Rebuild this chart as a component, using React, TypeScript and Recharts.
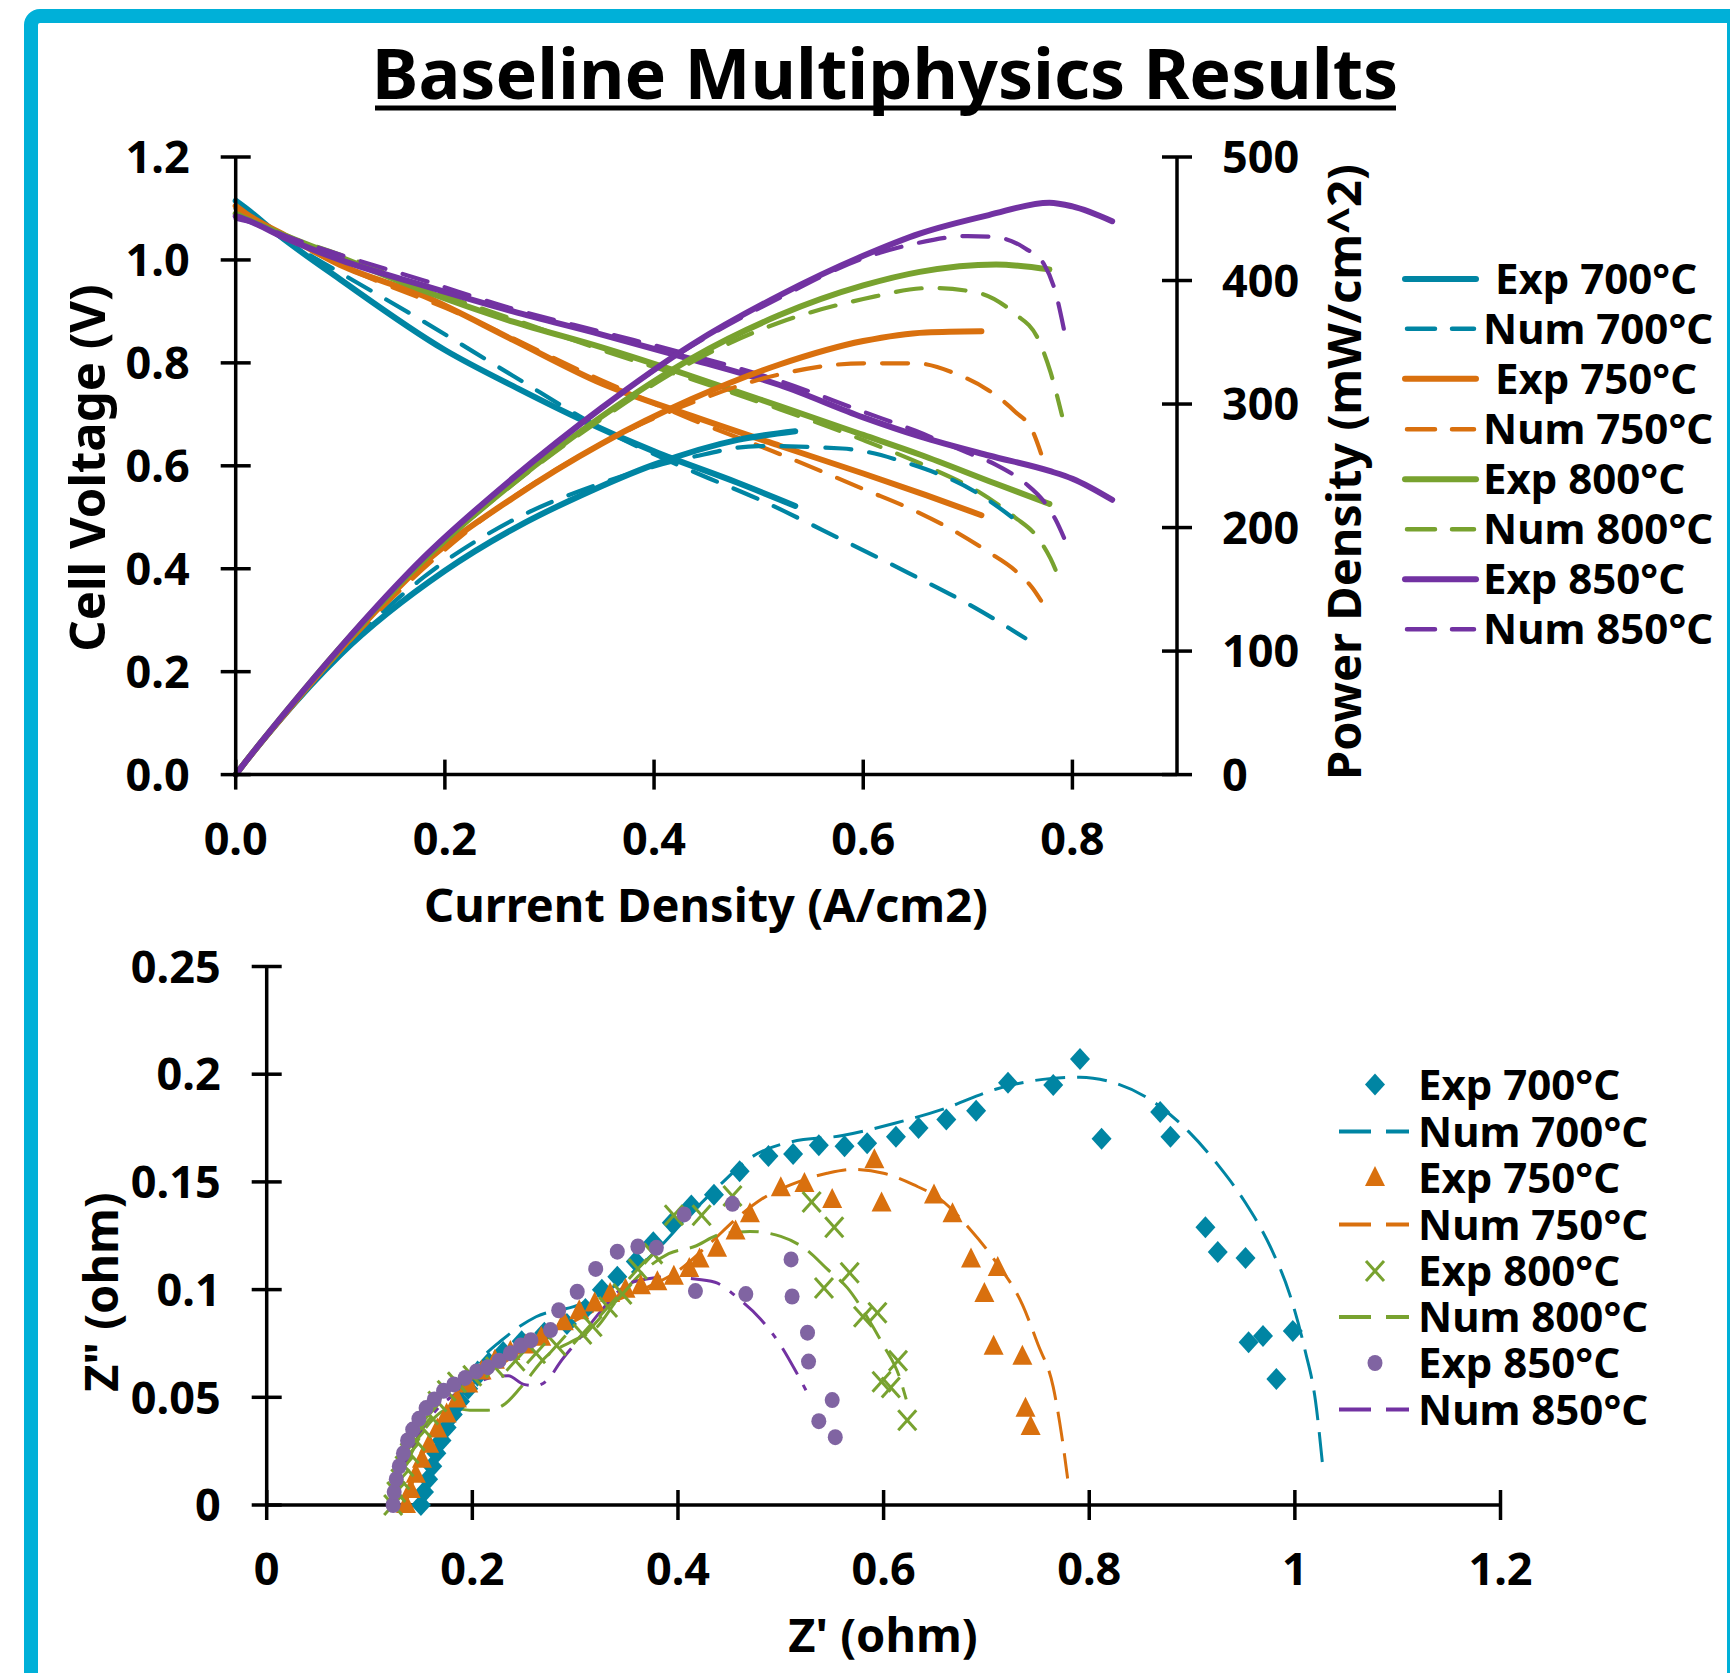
import React from "react";
import { ComposedChart, Line, Scatter, XAxis, YAxis } from "recharts";

const TEAL = "#0085A3";
const ORANGE = "#D9700E";
const GREEN = "#78A22F";
const PURPLE = "#7232A2";
const LILAC = "#8064A2";
const BORDER = "#00B0D8";
const FONT = '"Noto Sans", "DejaVu Sans", sans-serif';

// ---- polarisation curves: current density (A/cm2), voltage (V), power (mW/cm^2)
const exp700I = [0, 0.01, 0.04, 0.1, 0.2, 0.27, 0.33, 0.4, 0.48, 0.535];
const exp700V = [1.115, 1.1, 1.05, 0.962, 0.825, 0.75, 0.69, 0.628, 0.567, 0.522];
const exp700P = [0, 11, 42, 97, 165, 201, 226, 251, 271, 278];

const num700I = [0, 0.02, 0.05, 0.1, 0.18, 0.265, 0.35, 0.436, 0.5, 0.58, 0.643, 0.707, 0.755];
const num700V = [1.1, 1.075, 1.035, 0.975, 0.88, 0.775, 0.672, 0.59, 0.535, 0.456, 0.392, 0.324, 0.265];
const num700P = [0, 21, 51, 98, 160, 206, 236, 257, 266, 264, 252, 229, 200];

const exp750I = [0, 0.01, 0.05, 0.1, 0.18, 0.265, 0.35, 0.436, 0.52, 0.6, 0.66, 0.713];
const exp750V = [1.105, 1.09, 1.045, 0.99, 0.93, 0.845, 0.76, 0.697, 0.639, 0.585, 0.543, 0.504];
const exp750P = [0, 11, 52, 101, 171, 224, 268, 304, 332, 351, 358, 359];

const num750I = [0, 0.02, 0.05, 0.1, 0.22, 0.35, 0.436, 0.52, 0.6, 0.65, 0.69, 0.72, 0.745, 0.762, 0.77];
const num750V = [1.1, 1.07, 1.04, 0.99, 0.89, 0.766, 0.69, 0.623, 0.555, 0.512, 0.47, 0.432, 0.397, 0.362, 0.338];
const num750P = [0, 21, 52, 100, 196, 268, 301, 324, 333, 333, 324, 311, 294, 278, 260];

const exp800I = [0, 0.01, 0.05, 0.1, 0.18, 0.265, 0.35, 0.436, 0.52, 0.6, 0.654, 0.727, 0.778];
const exp800V = [1.09, 1.08, 1.045, 1.005, 0.94, 0.88, 0.83, 0.774, 0.716, 0.66, 0.622, 0.565, 0.526];
const exp800P = [0, 11, 53, 103, 174, 236, 290, 337, 372, 396, 407, 413, 409];

const num800I = [0, 0.02, 0.05, 0.1, 0.18, 0.265, 0.35, 0.436, 0.52, 0.6, 0.665, 0.71, 0.745, 0.767, 0.779, 0.79];
const num800V = [1.09, 1.07, 1.045, 1.01, 0.945, 0.885, 0.825, 0.768, 0.71, 0.65, 0.595, 0.55, 0.5, 0.46, 0.42, 0.367];
const num800P = [0, 21, 52, 101, 173, 235, 288, 334, 366, 385, 394, 390, 373, 353, 326, 291];

const exp850I = [0, 0.01, 0.05, 0.1, 0.18, 0.265, 0.35, 0.436, 0.52, 0.6, 0.654, 0.72, 0.778, 0.8, 0.838];
const exp850V = [1.085, 1.078, 1.04, 1.0, 0.95, 0.9, 0.855, 0.807, 0.757, 0.694, 0.657, 0.62, 0.59, 0.575, 0.534];
const exp850P = [0, 11, 53, 103, 176, 240, 297, 348, 388, 420, 438, 453, 463, 460, 448];

const num850I = [0, 0.02, 0.05, 0.1, 0.18, 0.265, 0.35, 0.436, 0.52, 0.6, 0.65, 0.7, 0.727, 0.755, 0.773, 0.784, 0.792];
const num850V = [1.08, 1.07, 1.045, 1.01, 0.96, 0.905, 0.86, 0.815, 0.765, 0.705, 0.668, 0.625, 0.602, 0.566, 0.53, 0.495, 0.46];
const num850P = [0, 21, 53, 103, 176, 240, 297, 347, 386, 418, 430, 436, 435, 426, 413, 390, 360];

// ---- impedance spectra: Z' and Z'' (ohm)
const exp700Re = [0.15, 0.153, 0.157, 0.161, 0.165, 0.17, 0.175, 0.181, 0.188, 0.196, 0.205, 0.216, 0.23, 0.248, 0.27, 0.292, 0.31, 0.326, 0.341, 0.359, 0.376, 0.394, 0.413, 0.435, 0.46, 0.488, 0.512, 0.537, 0.562, 0.584, 0.612, 0.634, 0.661, 0.69, 0.721, 0.765, 0.791, 0.812, 0.869, 0.879, 0.913, 0.925, 0.952, 0.955, 0.969, 0.998, 0.982];
const exp700Im = [0, 0.006, 0.012, 0.018, 0.024, 0.03, 0.036, 0.042, 0.048, 0.054, 0.06, 0.066, 0.071, 0.076, 0.08, 0.084, 0.091, 0.0999, 0.106, 0.113, 0.122, 0.131, 0.139, 0.144, 0.155, 0.162, 0.163, 0.167, 0.1665, 0.168, 0.171, 0.175, 0.179, 0.183, 0.196, 0.195, 0.207, 0.17, 0.1825, 0.171, 0.129, 0.1175, 0.1147, 0.0755, 0.0785, 0.0808, 0.0585];

const num700Re = [0.15, 0.158, 0.167, 0.178, 0.19, 0.205, 0.227, 0.262, 0.302, 0.341, 0.376, 0.411, 0.441, 0.47, 0.51, 0.56, 0.609, 0.659, 0.709, 0.755, 0.791, 0.822, 0.858, 0.897, 0.925, 0.951, 0.977, 0.995, 1.01, 1.02, 1.027];
const num700Im = [0, 0.015, 0.03, 0.045, 0.056, 0.066, 0.0759, 0.0874, 0.0927, 0.1025, 0.1167, 0.1345, 0.1487, 0.161, 0.1686, 0.1715, 0.177, 0.184, 0.193, 0.1976, 0.1986, 0.1963, 0.1886, 0.1732, 0.158, 0.141, 0.119, 0.0978, 0.0716, 0.0485, 0.0185];

const exp750Re = [0.1355, 0.14, 0.145, 0.151, 0.158, 0.166, 0.175, 0.185, 0.196, 0.209, 0.222, 0.237, 0.252, 0.267, 0.289, 0.304, 0.319, 0.334, 0.349, 0.364, 0.38, 0.396, 0.411, 0.421, 0.438, 0.456, 0.47, 0.5, 0.523, 0.55, 0.591, 0.598, 0.649, 0.667, 0.685, 0.711, 0.698, 0.707, 0.735, 0.738, 0.743];
const exp750Im = [0, 0.007, 0.014, 0.021, 0.028, 0.035, 0.042, 0.049, 0.056, 0.062, 0.067, 0.071, 0.074, 0.0776, 0.0848, 0.09, 0.0936, 0.098, 0.0999, 0.1016, 0.1034, 0.106, 0.1096, 0.114, 0.119, 0.127, 0.135, 0.147, 0.149, 0.1416, 0.16, 0.14, 0.1437, 0.135, 0.114, 0.11, 0.098, 0.0735, 0.0688, 0.0447, 0.0362];

const num750Re = [0.135, 0.145, 0.158, 0.175, 0.2, 0.23, 0.26, 0.29, 0.33, 0.37, 0.401, 0.43, 0.4605, 0.48, 0.51, 0.545, 0.57, 0.6, 0.629, 0.655, 0.683, 0.709, 0.735, 0.75, 0.765, 0.773, 0.779];
const num750Im = [0, 0.015, 0.03, 0.043, 0.056, 0.066, 0.075, 0.083, 0.093, 0.101, 0.109, 0.121, 0.1345, 0.1416, 0.1487, 0.154, 0.1558, 0.154, 0.1487, 0.142, 0.1286, 0.113, 0.093, 0.0747, 0.0547, 0.033, 0.0123];

const exp800Re = [0.123, 0.126, 0.13, 0.134, 0.139, 0.145, 0.151, 0.158, 0.166, 0.175, 0.185, 0.2, 0.222, 0.242, 0.262, 0.282, 0.307, 0.317, 0.332, 0.346, 0.361, 0.376, 0.396, 0.423, 0.453, 0.53, 0.552, 0.542, 0.567, 0.58, 0.594, 0.598, 0.607, 0.614, 0.623];
const exp800Im = [0, 0.006, 0.012, 0.018, 0.024, 0.03, 0.036, 0.042, 0.048, 0.053, 0.057, 0.06, 0.064, 0.067, 0.0705, 0.074, 0.0794, 0.083, 0.0919, 0.098, 0.1096, 0.1167, 0.1345, 0.1345, 0.1434, 0.1407, 0.129, 0.1007, 0.1078, 0.0874, 0.0892, 0.0572, 0.0545, 0.067, 0.0394];

const num800Re = [0.123, 0.133, 0.146, 0.162, 0.18, 0.1975, 0.215, 0.232, 0.247, 0.272, 0.297, 0.322, 0.341, 0.361, 0.391, 0.416, 0.441, 0.47, 0.5, 0.525, 0.545, 0.565, 0.585, 0.6, 0.615, 0.622];
const num800Im = [0, 0.015, 0.029, 0.04, 0.045, 0.044, 0.044, 0.047, 0.0545, 0.069, 0.076, 0.083, 0.0954, 0.106, 0.1167, 0.12, 0.1256, 0.127, 0.1247, 0.1185, 0.1096, 0.1007, 0.0865, 0.074, 0.06, 0.049];

const exp850Re = [0.123, 0.124, 0.126, 0.129, 0.133, 0.137, 0.142, 0.148, 0.155, 0.163, 0.172, 0.182, 0.193, 0.204, 0.215, 0.226, 0.237, 0.247, 0.257, 0.276, 0.284, 0.302, 0.32, 0.341, 0.361, 0.379, 0.406, 0.453, 0.417, 0.466, 0.51, 0.511, 0.526, 0.527, 0.55, 0.537, 0.553];
const exp850Im = [0, 0.006, 0.012, 0.018, 0.024, 0.03, 0.035, 0.04, 0.045, 0.049, 0.053, 0.056, 0.059, 0.062, 0.064, 0.067, 0.0705, 0.074, 0.0765, 0.0812, 0.0904, 0.099, 0.1096, 0.1176, 0.12, 0.1194, 0.1349, 0.1398, 0.0993, 0.0979, 0.114, 0.0968, 0.08, 0.0666, 0.0487, 0.0389, 0.0315];

const num850Re = [0.123, 0.132, 0.145, 0.163, 0.185, 0.21, 0.235, 0.25, 0.262, 0.275, 0.285, 0.302, 0.325, 0.351, 0.371, 0.391, 0.411, 0.436, 0.46, 0.48, 0.5, 0.515, 0.525];
const num850Im = [0, 0.015, 0.03, 0.043, 0.052, 0.058, 0.06, 0.056, 0.0554, 0.059, 0.066, 0.076, 0.09, 0.1025, 0.105, 0.106, 0.1052, 0.1034, 0.0954, 0.0865, 0.074, 0.0617, 0.0528];

// ---- axis ticks
const currentTicks = [0, 0.2, 0.4, 0.6, 0.8];
const voltageTicks = [0, 0.2, 0.4, 0.6, 0.8, 1.0, 1.2];
const powerTicks = [0, 100, 200, 300, 400, 500];
const zReTicks = [0, 0.2, 0.4, 0.6, 0.8, 1, 1.2];
const zImTicks = [0, 0.05, 0.1, 0.15, 0.2, 0.25];

const pairs = (xs: number[], ys: number[]) => xs.map((x, k) => ({ x, y: ys[k] }));

// layout (page pixels)
const TOP_H = 900;
const T = { left: 235.7, right: 1177, top: 157, bottom: 774.6 };
const BOT_Y = 900;
const BOT_H = 773;
const B = { left: 266.7, right: 1500.5, top: 66.5, bottom: 605 };

const TICK_FS = 45;
const AX = 3.5;

const tickText = (x: number, y: number, label: string, anchor: "start" | "middle" | "end") => (
  <text x={x} y={y} dy={TICK_FS * 0.36} textAnchor={anchor} fontFamily={FONT} fontWeight={700} fontSize={TICK_FS} fill="#000">
    {label}
  </text>
);

const leftTick = (axisX: number, fmt: (v: number) => string) => (p: any) => (
  <g>
    <line x1={axisX - 15} x2={axisX + 15} y1={p.y} y2={p.y} stroke="#000" strokeWidth={AX} />
    {tickText(axisX - 46, p.y, fmt(p.payload.value), "end")}
  </g>
);

const rightTick = (axisX: number) => (p: any) => (
  <g>
    <line x1={axisX - 15} x2={axisX + 15} y1={p.y} y2={p.y} stroke="#000" strokeWidth={AX} />
    {tickText(axisX + 45, p.y, String(p.payload.value), "start")}
  </g>
);

const bottomTick = (axisY: number, fmt: (v: number) => string) => (p: any) => (
  <g>
    <line x1={p.x} x2={p.x} y1={axisY - 15} y2={axisY + 15} stroke="#000" strokeWidth={AX} />
    {tickText(p.x, axisY + 64, fmt(p.payload.value), "middle")}
  </g>
);

const Diamond = (p: any) => (
  <polygon points={`${p.cx},${p.cy - 11} ${p.cx + 10},${p.cy} ${p.cx},${p.cy + 11} ${p.cx - 10},${p.cy}`} fill={TEAL} />
);
const Triangle = (p: any) => (
  <polygon points={`${p.cx},${p.cy - 12} ${p.cx + 10},${p.cy + 8} ${p.cx - 10},${p.cy + 8}`} fill={ORANGE} />
);
const Cross = (p: any) => (
  <g stroke={GREEN} strokeWidth={3}>
    <line x1={p.cx - 9} y1={p.cy - 10} x2={p.cx + 9} y2={p.cy + 10} />
    <line x1={p.cx + 9} y1={p.cy - 10} x2={p.cx - 9} y2={p.cy + 10} />
  </g>
);
const Dot = (p: any) => <ellipse cx={p.cx} cy={p.cy} rx={7.5} ry={8} fill={LILAC} />;

const polLines = [
  { i: exp700I, v: exp700V, p: exp700P, color: TEAL, dashed: false },
  { i: num700I, v: num700V, p: num700P, color: TEAL, dashed: true },
  { i: exp750I, v: exp750V, p: exp750P, color: ORANGE, dashed: false },
  { i: num750I, v: num750V, p: num750P, color: ORANGE, dashed: true },
  { i: exp800I, v: exp800V, p: exp800P, color: GREEN, dashed: false },
  { i: num800I, v: num800V, p: num800P, color: GREEN, dashed: true },
  { i: exp850I, v: exp850V, p: exp850P, color: PURPLE, dashed: false },
  { i: num850I, v: num850V, p: num850P, color: PURPLE, dashed: true },
];

const topLegend = [
  { label: "Exp 700°C", color: TEAL, dashed: false, tx: 1495 },
  { label: "Num 700°C", color: TEAL, dashed: true, tx: 1483 },
  { label: "Exp 750°C", color: ORANGE, dashed: false, tx: 1495 },
  { label: "Num 750°C", color: ORANGE, dashed: true, tx: 1483 },
  { label: "Exp 800°C", color: GREEN, dashed: false, tx: 1483 },
  { label: "Num 800°C", color: GREEN, dashed: true, tx: 1483 },
  { label: "Exp 850°C", color: PURPLE, dashed: false, tx: 1483 },
  { label: "Num 850°C", color: PURPLE, dashed: true, tx: 1483 },
];
const topLegendY = [279, 328.7, 378.7, 429.3, 479.3, 529.3, 579.3, 629.3];

const botLegend = ["Exp 700°C", "Num 700°C", "Exp 750°C", "Num 750°C", "Exp 800°C", "Num 800°C", "Exp 850°C", "Num 850°C"];
const botLegendY = [1084.6, 1131.6, 1178, 1224.5, 1271, 1317, 1363, 1409.5];
const botMarkers = [Diamond, null, Triangle, null, Cross, null, Dot, null];
const botColors = [TEAL, TEAL, ORANGE, ORANGE, GREEN, GREEN, PURPLE, PURPLE];

const LEG_FS = 42;
const AXT_FS = 47;

function Overlay() {
  return (
    <svg width={1730} height={1673} style={{ position: "absolute", left: 0, top: 0, pointerEvents: "none" }}>
      <text x={885} y={99} textAnchor="middle" fontFamily={FONT} fontWeight={700} fontSize={70}>
        Baseline Multiphysics Results
      </text>
      <line x1={375} x2={1396} y1={108} y2={108} stroke="#000" strokeWidth={5} />

      <text x={706} y={905} dy={AXT_FS * 0.36} textAnchor="middle" fontFamily={FONT} fontWeight={700} fontSize={AXT_FS}>
        Current Density (A/cm2)
      </text>
      <text transform="translate(88,468) rotate(-90)" dy={AXT_FS * 0.36} textAnchor="middle" fontFamily={FONT} fontWeight={700} fontSize={49}>
        Cell Voltage (V)
      </text>
      <text transform="translate(1344,472) rotate(-90)" dy={AXT_FS * 0.36} textAnchor="middle" fontFamily={FONT} fontWeight={700} fontSize={AXT_FS}>
        Power Density (mW/cm^2)
      </text>

      {topLegend.map((r, k) => (
        <g key={r.label}>
          <line
            x1={r.dashed ? 1407 : 1405}
            x2={r.dashed ? 1474 : 1476}
            y1={topLegendY[k]}
            y2={topLegendY[k]}
            stroke={r.color}
            strokeWidth={r.dashed ? 4.5 : 6}
            strokeDasharray={r.dashed ? "28 17" : undefined}
            strokeLinecap="round"
          />
          <text x={r.tx} y={topLegendY[k]} dy={LEG_FS * 0.36} fontFamily={FONT} fontWeight={700} fontSize={LEG_FS}>
            {r.label}
          </text>
        </g>
      ))}

      <text x={883} y={1635} dy={AXT_FS * 0.36} textAnchor="middle" fontFamily={FONT} fontWeight={700} fontSize={AXT_FS}>
        Z' (ohm)
      </text>
      <text transform="translate(101,1292) rotate(-90)" dy={AXT_FS * 0.36} textAnchor="middle" fontFamily={FONT} fontWeight={700} fontSize={AXT_FS}>
        Z" (ohm)
      </text>

      {botLegend.map((label, k) => {
        const M = botMarkers[k];
        const y = botLegendY[k];
        return (
          <g key={label}>
            {M ? (
              <M cx={1375} cy={y} />
            ) : (
              <line x1={1339} x2={1409} y1={y} y2={y} stroke={botColors[k]} strokeWidth={4} strokeDasharray="32 15" />
            )}
            <text x={1418} y={y} dy={LEG_FS * 0.36} fontFamily={FONT} fontWeight={700} fontSize={LEG_FS}>
              {label}
            </text>
          </g>
        );
      })}
    </svg>
  );
}

export default function App() {
  const fmt1 = (v: number) => v.toFixed(1);
  const fmtG = (v: number) => String(v);
  const polSeries = (key: "v" | "p") =>
    polLines.map((s, k) => (
      <Line
        key={`${key}${k}`}
        yAxisId={key}
        data={pairs(s.i, s[key])}
        dataKey="y"
        type="monotone"
        stroke={s.color}
        strokeWidth={s.dashed ? 4.2 : 6}
        strokeDasharray={s.dashed ? "26 18" : undefined}
        strokeLinecap="round"
        dot={false}
        activeDot={false}
        isAnimationActive={false}
      />
    ));
  return (
    <div style={{ position: "absolute", left: 0, top: 0, width: 1730, height: 1673, overflow: "hidden", background: "#fff" }}>
      <div
        style={{
          position: "absolute",
          left: 24,
          top: 9,
          width: 1717,
          height: 1720,
          boxSizing: "border-box",
          border: `14px solid ${BORDER}`,
          borderTopLeftRadius: 16,
        }}
      />

      <div style={{ position: "absolute", left: 0, top: 0 }}>
        <ComposedChart
          width={1730}
          height={TOP_H}
          margin={{ top: T.top, right: 1730 - T.right - 100, bottom: TOP_H - T.bottom - 60, left: 0 }}
        >
          <XAxis
            type="number"
            dataKey="x"
            domain={[0, 0.9]}
            ticks={currentTicks}
            interval={0}
            height={60}
            tickLine={false}
            axisLine={{ stroke: "#000", strokeWidth: AX }}
            tick={bottomTick(T.bottom, fmt1)}
          />
          <YAxis
            yAxisId="v"
            type="number"
            domain={[0, 1.2]}
            ticks={voltageTicks}
            interval={0}
            width={T.left}
            tickLine={false}
            axisLine={{ stroke: "#000", strokeWidth: AX }}
            tick={leftTick(T.left, fmt1)}
          />
          <YAxis
            yAxisId="p"
            orientation="right"
            type="number"
            domain={[0, 500]}
            ticks={powerTicks}
            interval={0}
            width={100}
            tickLine={false}
            axisLine={{ stroke: "#000", strokeWidth: AX }}
            tick={rightTick(T.right)}
          />
          {polSeries("v")}
          {polSeries("p")}
        </ComposedChart>
      </div>

      <div style={{ position: "absolute", left: 0, top: BOT_Y }}>
        <ComposedChart
          width={1730}
          height={BOT_H}
          margin={{ top: B.top, right: 1730 - B.right, bottom: BOT_H - B.bottom - 60, left: 0 }}
        >
          <XAxis
            type="number"
            dataKey="x"
            domain={[0, 1.2]}
            ticks={zReTicks}
            interval={0}
            height={60}
            tickLine={false}
            axisLine={{ stroke: "#000", strokeWidth: AX }}
            tick={bottomTick(B.bottom, fmtG)}
          />
          <YAxis
            type="number"
            dataKey="y"
            domain={[0, 0.25]}
            ticks={zImTicks}
            interval={0}
            width={B.left}
            tickLine={false}
            axisLine={{ stroke: "#000", strokeWidth: AX }}
            tick={leftTick(B.left, fmtG)}
          />
          <Scatter data={pairs(exp700Re, exp700Im)} dataKey="y" shape={Diamond} isAnimationActive={false} />
          <Line data={pairs(num700Re, num700Im)} dataKey="y" type="monotone" stroke={TEAL} strokeWidth={3} strokeDasharray="30 12" dot={false} activeDot={false} isAnimationActive={false} />
          <Scatter data={pairs(exp750Re, exp750Im)} dataKey="y" shape={Triangle} isAnimationActive={false} />
          <Line data={pairs(num750Re, num750Im)} dataKey="y" type="monotone" stroke={ORANGE} strokeWidth={3} strokeDasharray="30 12" dot={false} activeDot={false} isAnimationActive={false} />
          <Scatter data={pairs(exp800Re, exp800Im)} dataKey="y" shape={Cross} isAnimationActive={false} />
          <Line data={pairs(num800Re, num800Im)} dataKey="y" type="monotone" stroke={GREEN} strokeWidth={3} strokeDasharray="30 12" dot={false} activeDot={false} isAnimationActive={false} />
          <Scatter data={pairs(exp850Re, exp850Im)} dataKey="y" shape={Dot} isAnimationActive={false} />
          <Line data={pairs(num850Re, num850Im)} dataKey="y" type="monotone" stroke={PURPLE} strokeWidth={3} strokeDasharray="30 12 6 12" dot={false} activeDot={false} isAnimationActive={false} />
        </ComposedChart>
      </div>

      <Overlay />
    </div>
  );
}
